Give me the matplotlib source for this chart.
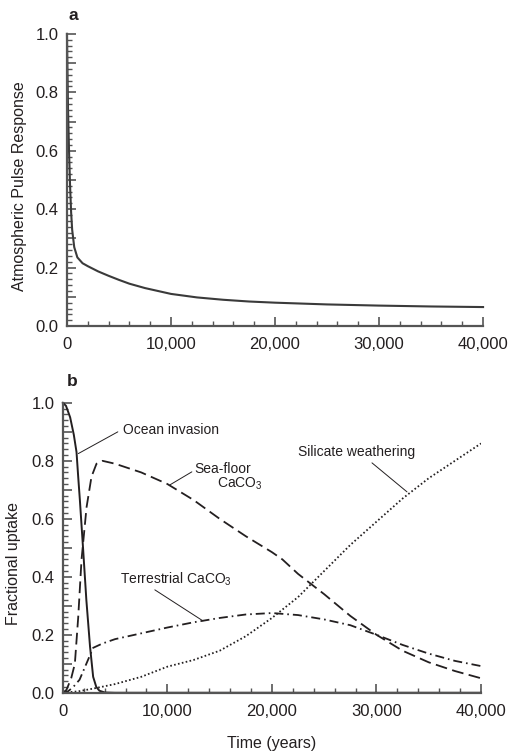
import numpy as np
import matplotlib
matplotlib.use("Agg")
import matplotlib.pyplot as plt
from matplotlib.ticker import MultipleLocator, FuncFormatter

plt.rcParams['font.family'] = ['Liberation Sans', 'DejaVu Sans']
plt.rcParams['mathtext.fontset'] = 'custom'
plt.rcParams['mathtext.rm'] = 'Liberation Sans'
plt.rcParams['mathtext.it'] = 'Liberation Sans:italic'

INK = '#231f20'
SPINE = '#555555'

# panel a: atmospheric pulse response
t_pulse = [0, 100, 200, 300, 400, 500, 700, 1000, 1500, 2000, 3000, 4000, 5000,
           6000, 7500, 10000, 12500, 15000, 17500, 20000, 25000, 30000, 35000, 40000]
pulse = [1.0, 0.75, 0.60, 0.48, 0.39, 0.33, 0.27, 0.235, 0.215, 0.205, 0.187, 0.172, 0.158,
         0.145, 0.13, 0.11, 0.098, 0.09, 0.084, 0.08, 0.074, 0.07, 0.067, 0.065]

# panel b: fractional uptake
t_ocean = [0, 300, 700, 1050, 1310, 1470, 1630, 1950, 2250, 2600, 2900, 3200, 3500, 4000,
           5000, 40000]
ocean = [1.0, 0.99, 0.95, 0.89, 0.83, 0.745, 0.665, 0.49, 0.32, 0.16, 0.055, 0.02, 0.007,
         0.001, 0.0, 0.0]

t_seafloor = [0, 350, 800, 1150, 1470, 1790, 2270, 2740, 3220, 3800, 5000, 7500, 10000,
              12500, 15000, 17500, 20000, 21000, 22500, 25000, 27500, 30000, 32500, 35000,
              37500, 40000]
seafloor = [0.0, 0.01, 0.05, 0.10, 0.26, 0.46, 0.64, 0.745, 0.79, 0.80, 0.79, 0.76, 0.72,
            0.665, 0.60, 0.54, 0.485, 0.46, 0.41, 0.34, 0.265, 0.20, 0.145, 0.105,
            0.075, 0.05]

t_terr = [0, 500, 1000, 1600, 2250, 2900, 3800, 5000, 7500, 10000, 12500, 15000, 17500,
          20000, 22500, 25000, 27500, 30000, 32500, 35000, 37500, 40000]
terr = [0.0, 0.005, 0.02, 0.045, 0.10, 0.155, 0.17, 0.185, 0.205, 0.225, 0.243, 0.258, 0.27,
        0.275, 0.268, 0.253, 0.233, 0.20, 0.165, 0.135, 0.11, 0.092]

t_sil = [0, 1500, 3000, 5000, 7500, 10000, 12500, 15000, 17500, 20000, 22500, 25000,
         27500, 30000, 32500, 35000, 37500, 40000]
sil = [0.0, 0.005, 0.015, 0.03, 0.055, 0.09, 0.113, 0.145, 0.195, 0.258, 0.33, 0.42,
       0.51, 0.59, 0.67, 0.74, 0.80, 0.86]


def style_axes(ax):
    for s in ['top', 'right']:
        ax.spines[s].set_visible(False)
    for s in ['left', 'bottom']:
        ax.spines[s].set_color(SPINE)
        ax.spines[s].set_linewidth(1.6)
    ax.set_xlim(0, 40000)
    ax.set_ylim(0, 1.0)
    ax.xaxis.set_major_locator(MultipleLocator(10000))
    ax.xaxis.set_minor_locator(MultipleLocator(2000))
    ax.yaxis.set_major_locator(MultipleLocator(0.1))
    ax.yaxis.set_minor_locator(MultipleLocator(0.02))
    ax.xaxis.set_major_formatter(FuncFormatter(lambda v, p: f'{int(v):,}'))
    ax.yaxis.set_major_formatter(
        FuncFormatter(lambda v, p: f'{v:.1f}' if round(v * 10) % 2 == 0 else ''))
    ax.tick_params(which='both', direction='in', colors=SPINE, labelcolor=INK,
                   labelsize=12)
    ax.tick_params(which='major', length=6.5, width=1.2)
    ax.tick_params(which='minor', length=3.5, width=1.0)
    ax.tick_params(axis='x', which='major', pad=8)
    ax.tick_params(axis='y', which='major', pad=6)


fig = plt.figure(figsize=(5.15, 7.53), dpi=100)
ax1 = fig.add_axes([0.130, 0.567, 0.808, 0.388])
ax2 = fig.add_axes([0.122, 0.080, 0.812, 0.385])

# panel a
ax1.plot(t_pulse, pulse, color='#3a3a3a', lw=1.5, clip_on=False)
style_axes(ax1)
ax1.text(-0.115, 0.48, 'Atmospheric Pulse Response', transform=ax1.transAxes,
         rotation=90, ha='center', va='center', fontsize=11.5, color=INK)
fig.text(73 / 515, 1 - 15 / 753, 'a', fontsize=12.5, fontweight='bold',
         ha='center', va='center', color=INK)

# panel b
ax2.plot(t_ocean, ocean, color=INK, lw=1.4, clip_on=False)
ax2.plot(t_seafloor, seafloor, color=INK, lw=1.3, linestyle=(0, (6.5, 3)))
ax2.plot(t_terr, terr, color=INK, lw=1.3, linestyle=(0, (5, 2.2, 0.9, 2.2)))
ax2.plot(t_sil, sil, color=INK, lw=1.3, linestyle=(0, (0.9, 1.3)))
style_axes(ax2)
ax2.text(-0.117, 0.445, 'Fractional uptake', transform=ax2.transAxes,
         rotation=90, ha='center', va='center', fontsize=11.5, color=INK)
ax2.set_xlabel('Time (years)', fontsize=11.5, color=INK, labelpad=12)
fig.text(72 / 515, 1 - 382 / 753, 'b', fontsize=12.5, fontweight='bold',
         ha='center', va='center', color=INK)

lead = dict(arrowstyle='-', lw=0.7, color=INK, shrinkA=0, shrinkB=0)
fs = 10

ax2.text(5740, 0.907, 'Ocean invasion', fontsize=fs, color=INK, va='center')
ax2.annotate('', xy=(1480, 0.825), xytext=(5260, 0.90), arrowprops=lead)

ax2.text(12600, 0.771, 'Sea-floor', fontsize=fs, color=INK, va='center')
ax2.text(14740, 0.722, 'CaCO$_3$', fontsize=fs, color=INK, va='center')
ax2.annotate('', xy=(10240, 0.717), xytext=(12340, 0.762), arrowprops=lead)

ax2.text(5450, 0.39, 'Terrestrial CaCO$_3$', fontsize=fs, color=INK, va='center')
ax2.annotate('', xy=(13400, 0.248), xytext=(8800, 0.355), arrowprops=lead)

ax2.text(22490, 0.831, 'Silicate weathering', fontsize=fs, color=INK, va='center')
ax2.annotate('', xy=(32920, 0.693), xytext=(29570, 0.793), arrowprops=lead)

fig.savefig('out.png', dpi=100)
